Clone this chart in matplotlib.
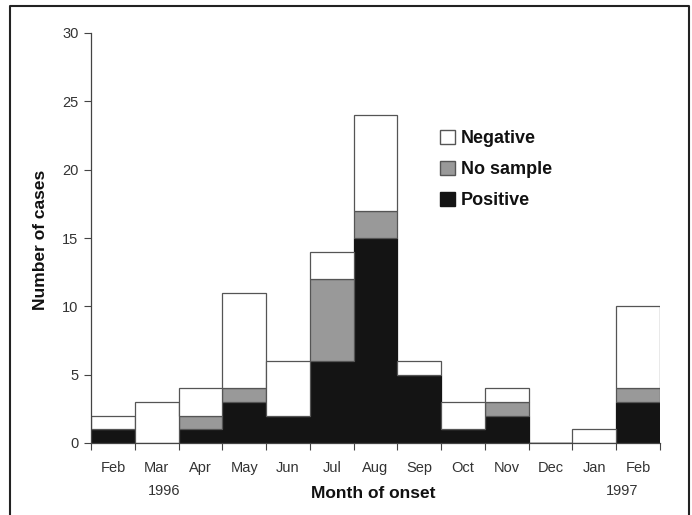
import matplotlib
matplotlib.use("Agg")
import matplotlib.pyplot as plt
import numpy as np
from matplotlib.patches import Patch
from matplotlib.lines import Line2D

months = ["Feb", "Mar", "Apr", "May", "Jun", "Jul", "Aug", "Sep", "Oct", "Nov", "Dec", "Jan", "Feb"]
year_labels = ["1996", "1997"]
positive = [1, 0, 1, 3, 2, 6, 15, 5, 1, 2, 0, 0, 3]
no_sample = [0, 0, 1, 1, 0, 6, 2, 0, 0, 1, 0, 0, 1]
negative = [1, 3, 2, 7, 4, 2, 7, 1, 2, 1, 0, 1, 6]

plt.rcParams['font.family'] = ['Liberation Sans', 'DejaVu Sans']

W, H = 692, 515
fig = plt.figure(figsize=(W/100, H/100), dpi=100)
ax = fig.add_axes([91/W, 1-443/H, (660-91)/W, (443-33)/H])

x = np.arange(len(months))
pos = np.array(positive)
ns = np.array(no_sample)
neg = np.array(negative)
ec = "#555555"
lw = 0.9
ax.bar(x, pos, width=1.0, color="#141414", edgecolor="#141414", linewidth=lw, label="Positive")
ax.bar(x, ns, width=1.0, bottom=pos, color="#999999", edgecolor=ec, linewidth=lw, label="No sample")
ax.bar(x, neg, width=1.0, bottom=pos + ns, color="white", edgecolor=ec, linewidth=lw, label="Negative")

ax.set_xlim(-0.5, len(months) - 0.5)
ax.set_ylim(0, 30)
ax.set_yticks(range(0, 31, 5))
ax.tick_params(axis='y', labelsize=10.5, length=5, color="#444444", labelcolor="#333333", pad=4)

ax.set_xticks(np.arange(-0.5, len(months) + 0.5, 1.0))
ax.set_xticklabels([])
ax.tick_params(axis='x', length=5, color="#444444")

px_per_unit = (443 - 33) / 30.0
def ydata(px):
    return (443 - px) / px_per_unit

for i, m in enumerate(months):
    ax.text(i, ydata(468), m, ha='center', va='center', fontsize=10.5, color="#333333", clip_on=False)
# year labels under the first Mar and the last Feb (slightly offset as in the original)
for xi, yr in zip([1 + 0.17, len(months) - 1 - 0.37], year_labels):
    ax.text(xi, ydata(491), yr, ha='center', va='center', fontsize=10.5, color="#333333", clip_on=False)

for s in ['top', 'right']:
    ax.spines[s].set_visible(False)
for s in ['left', 'bottom']:
    ax.spines[s].set_color("#444444")
    ax.spines[s].set_linewidth(0.9)

ax.text(5.95, ydata(494), "Month of onset", ha='center', va='center', fontsize=12.5,
        fontweight='bold', color="#111111", clip_on=False)
fig.text(41/W, 1-240/H, "Number of cases", rotation=90, ha='center', va='center',
         fontsize=12.5, fontweight='bold', color="#111111")

handles = [Patch(facecolor="white", edgecolor=ec, label="Negative"),
           Patch(facecolor="#999999", edgecolor=ec, label="No sample"),
           Patch(facecolor="#141414", edgecolor="#141414", label="Positive")]
leg = ax.legend(handles=handles, loc='upper left', bbox_to_anchor=(440/W, 1-130/H),
                bbox_transform=fig.transFigure, borderpad=0, borderaxespad=0,
                frameon=False, prop={'weight': 'bold', 'size': 13},
                handlelength=0.85, handleheight=0.85, handletextpad=0.3, labelspacing=0.75)
for t in leg.get_texts():
    t.set_color("#111111")

# figure frame
fx0, fx1, fy1 = 10/W, 689/W, 1-6/H
fig.add_artist(Line2D([fx0, fx0, fx1, fx1], [0, fy1, fy1, 0], transform=fig.transFigure,
                      color="#222222", linewidth=1.5))

fig.savefig("out.png", dpi=100)
